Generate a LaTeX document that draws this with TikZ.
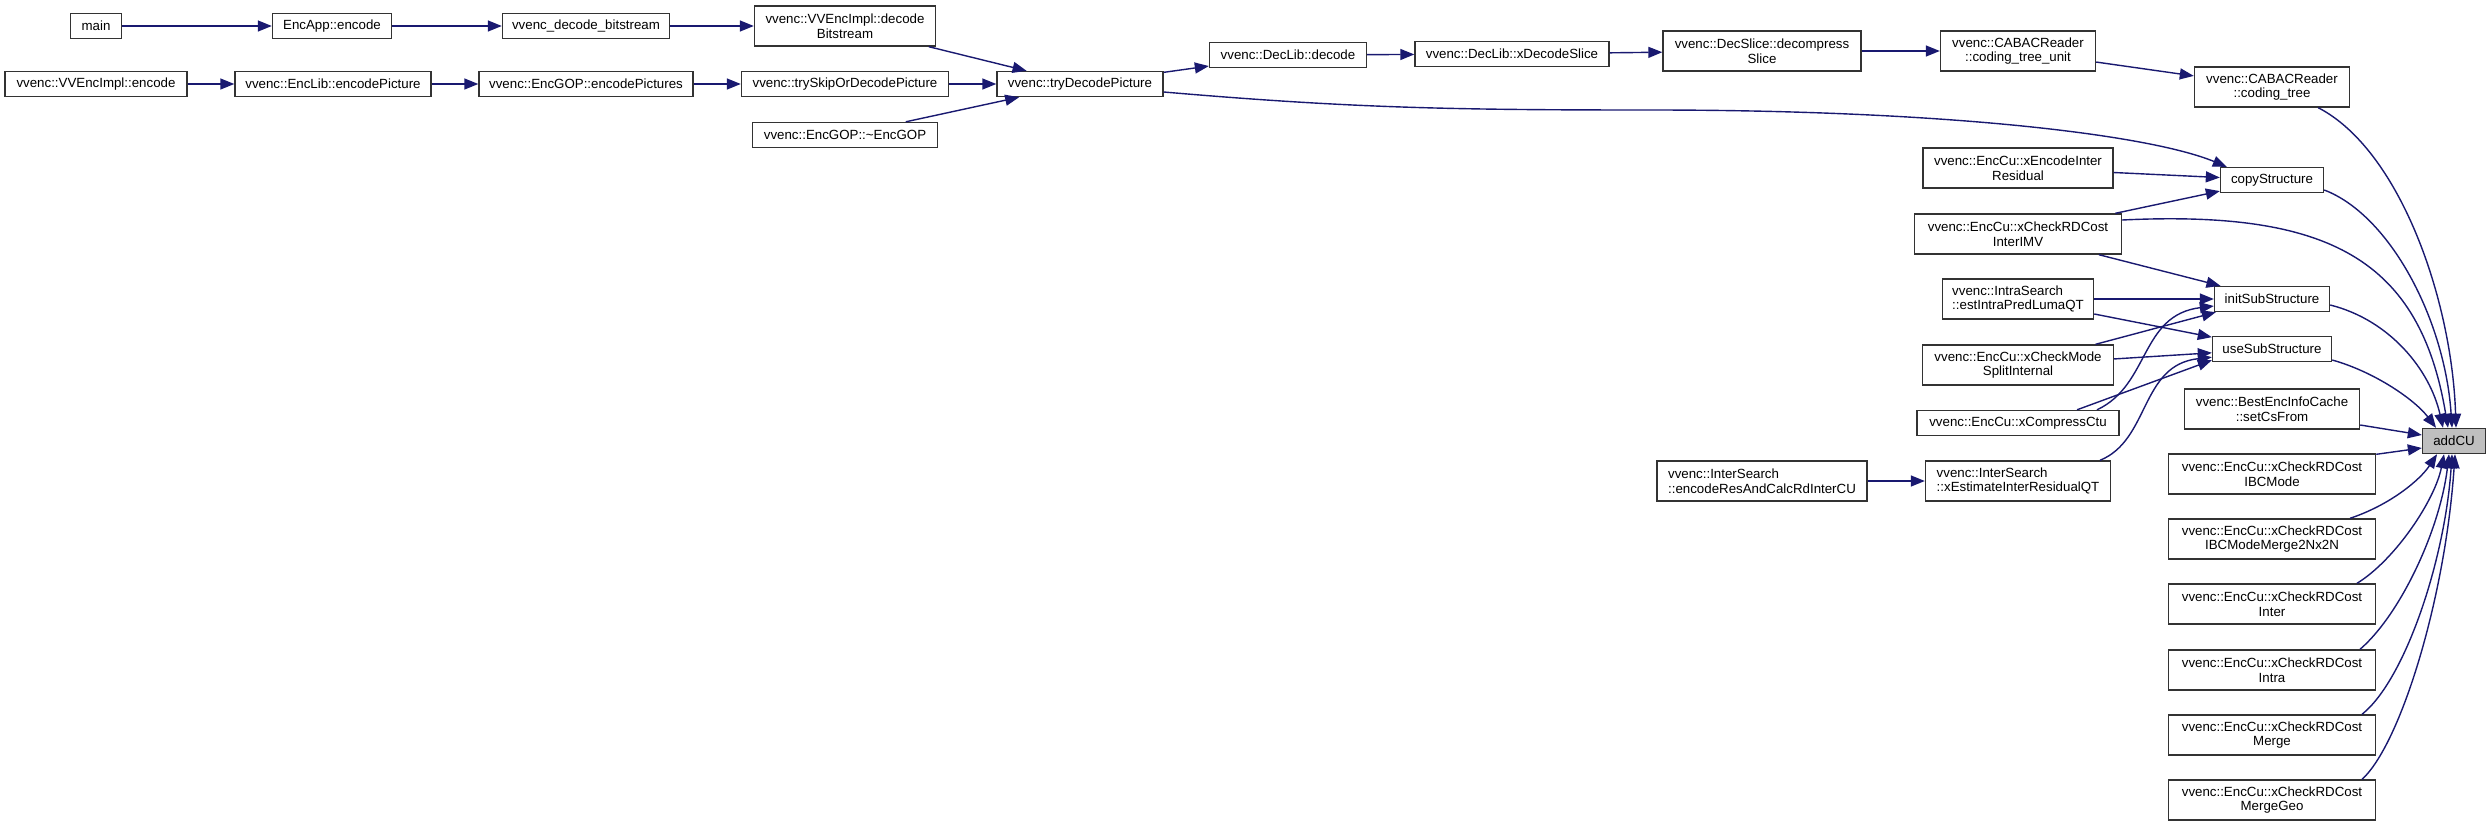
\documentclass[tikz,border=0pt]{standalone}
\usepackage{fontspec}
\setmainfont{Liberation Sans}
\usetikzlibrary{arrows.meta,calc}
\definecolor{edgecol}{HTML}{191970}
\definecolor{boxcol}{HTML}{333333}
\definecolor{selcol}{HTML}{BFBFBF}
\begin{document}
\begin{tikzpicture}[x=1pt,y=-1pt,
  fn/.style={draw=boxcol, line width=1.4pt, fill=white, inner sep=0pt,
    minimum height=25pt, font=\fontsize{13.3}{14.5}\selectfont, align=center},
  two/.style={minimum height=40pt},
  lft/.style={align=left},
  sel/.style={fill=selcol},
  edge/.style={draw=edgecol, line width=1.4pt, -{Triangle[length=14pt,width=11pt]}, fill=none}
]
\useasboundingbox (0,0) rectangle (2492,827);

% row 1
\node[fn, minimum width=51pt] (main) at (96,26) {main};
\node[fn, minimum width=119pt] (encapp) at (332,26) {EncApp::encode};
\node[fn, minimum width=167pt] (decbits) at (586,26) {vvenc\_decode\_bitstream};
\node[fn, two, minimum width=181pt] (vvdecbs) at (845,26) {vvenc::VVEncImpl::decode\\Bitstream};
% row 2
\node[fn, minimum width=182pt] (vvenc) at (96,84) {vvenc::VVEncImpl::encode};
\node[fn, minimum width=196pt] (enclib) at (333,84) {vvenc::EncLib::encodePicture};
\node[fn, minimum width=214pt] (encgop) at (586,84) {vvenc::EncGOP::encodePictures};
\node[fn, minimum width=207pt] (tryskip) at (845,84) {vvenc::trySkipOrDecodePicture};
\node[fn, minimum width=166pt] (trydec) at (1080,84) {vvenc::tryDecodePicture};
\node[fn, minimum width=185pt] (dtor) at (845,135) {vvenc::EncGOP::\textasciitilde EncGOP};
% decoder chain
\node[fn, minimum width=157pt] (declib) at (1288,55) {vvenc::DecLib::decode};
\node[fn, minimum width=194pt] (xdecslice) at (1512,54) {vvenc::DecLib::xDecodeSlice};
\node[fn, two, minimum width=198pt] (decomp) at (1762,51) {vvenc::DecSlice::decompress\\Slice};
\node[fn, two, minimum width=155pt] (ctu) at (2018,51) {vvenc::CABACReader\\::coding\_tree\_unit};
\node[fn, two, minimum width=155pt] (ctree) at (2272,87) {vvenc::CABACReader\\::coding\_tree};
% right cluster, left column
\node[fn, two, minimum width=190pt] (xenc) at (2018,168) {vvenc::EncCu::xEncodeInter\\Residual};
\node[fn, two, minimum width=207pt] (imv) at (2018,234) {vvenc::EncCu::xCheckRDCost\\InterIMV};
\node[fn, two, lft, minimum width=151pt] (estintra) at (2018,299) {vvenc::IntraSearch\\::estIntraPredLumaQT};
\node[fn, two, minimum width=191pt] (split) at (2018,365) {vvenc::EncCu::xCheckMode\\SplitInternal};
\node[fn, minimum width=202pt] (xcomp) at (2018,423) {vvenc::EncCu::xCompressCtu};
\node[fn, two, lft, minimum width=185pt] (xest) at (2018,481) {vvenc::InterSearch\\::xEstimateInterResidualQT};
\node[fn, two, lft, minimum width=210pt] (encres) at (1762,481) {vvenc::InterSearch\\::encodeResAndCalcRdInterCU};
% middle column
\node[fn, minimum width=103pt] (copy) at (2272,180) {copyStructure};
\node[fn, minimum width=115pt] (init) at (2272,299) {initSubStructure};
\node[fn, minimum width=119pt] (use) at (2272,349) {useSubStructure};
\node[fn, two, minimum width=175pt] (setcs) at (2272,409) {vvenc::BestEncInfoCache\\::setCsFrom};
\node[fn, two, minimum width=207pt] (ibc) at (2272,474) {vvenc::EncCu::xCheckRDCost\\IBCMode};
\node[fn, two, minimum width=207pt] (ibcm) at (2272,539) {vvenc::EncCu::xCheckRDCost\\IBCModeMerge2Nx2N};
\node[fn, two, minimum width=207pt] (inter) at (2272,604) {vvenc::EncCu::xCheckRDCost\\Inter};
\node[fn, two, minimum width=207pt] (intra) at (2272,670) {vvenc::EncCu::xCheckRDCost\\Intra};
\node[fn, two, minimum width=207pt] (merge) at (2272,735) {vvenc::EncCu::xCheckRDCost\\Merge};
\node[fn, two, minimum width=207pt] (mgeo) at (2272,800) {vvenc::EncCu::xCheckRDCost\\MergeGeo};
% target
\node[fn, sel, minimum width=63pt] (addcu) at (2454,441) {addCU};

% edges: top chains
\draw[edge] (main) -- (encapp);
\draw[edge] (encapp) -- (decbits);
\draw[edge] (decbits) -- (vvdecbs);
\draw[edge] (vvdecbs) -- (trydec);
\draw[edge] (vvenc) -- (enclib);
\draw[edge] (enclib) -- (encgop);
\draw[edge] (encgop) -- (tryskip);
\draw[edge] (tryskip) -- (trydec);
\draw[edge] (dtor) -- (trydec);
\draw[edge] (trydec) -- (declib);
\draw[edge] (declib) -- (xdecslice);
\draw[edge] (xdecslice) -- (decomp);
\draw[edge] (decomp) -- (ctu);
\draw[edge] (ctu) -- (ctree);
\draw[edge] ($(trydec.east)+(0,8)$) .. controls (1350,108) and (1450,110) .. (1650,110)
   .. controls (1950,110) and (2150,135) .. ($(copy.north west)+(7,0)$);

% right cluster
\draw[edge] (xenc) -- (copy);
\draw[edge] (imv) -- (copy);
\draw[edge] (imv) -- (init);
\draw[edge] (estintra) -- (init);
\draw[edge] (estintra) -- (use);
\draw[edge] (split) -- ($(init.south west)+(2,0)$);
\draw[edge] (split) -- (use);
\draw[edge] ($(xcomp.north)+(59,0)$) -- ($(use.south west)+(0,-2)$);
\draw[edge] ($(xcomp.north)+(79,0)$) .. controls (2150,385) and (2140,315) .. ($(init.west)+(0,7)$);
\draw[edge] ($(xest.north)+(82,0)$) .. controls (2150,440) and (2140,365) .. ($(use.south west)+(0,-5)$);
\draw[edge] (encres) -- (xest);

% into addCU
\draw[edge] ($(ctree.south east)+(-32,0)$) .. controls (2400,150) and (2452,300) .. ($(addcu.north)+(2,0)$);
\draw[edge] ($(copy.east)+(0,10)$) .. controls (2390,215) and (2445,320) .. ($(addcu.north)+(-2,0)$);
\draw[edge] ($(imv.east)+(0,-14)$) .. controls (2330,210) and (2420,260) .. ($(addcu.north)+(-6,0)$);
\draw[edge] ($(init.east)+(0,6)$) .. controls (2390,320) and (2430,370) .. ($(addcu.north)+(-11,0)$);
\draw[edge] ($(use.east)+(0,11)$) .. controls (2375,372) and (2415,400) .. ($(addcu.north)+(-18,0)$);
\draw[edge] ($(setcs.east)+(0,16)$) -- ($(addcu.west)+(0,-6)$);
\draw[edge] ($(ibc.north east)+(0,1)$) -- ($(addcu.west)+(0,7)$);
\draw[edge] ($(ibcm.north)+(78,0)$) .. controls (2390,505) and (2420,480) .. ($(addcu.south)+(-17,0)$);
\draw[edge] ($(inter.north)+(85,0)$) .. controls (2395,560) and (2435,500) .. ($(addcu.south)+(-10,0)$);
\draw[edge] ($(intra.north)+(88,0)$) .. controls (2400,615) and (2440,530) .. ($(addcu.south)+(-5,0)$);
\draw[edge] ($(merge.north)+(90,0)$) .. controls (2405,680) and (2445,560) .. ($(addcu.south)+(-2,0)$);
\draw[edge] ($(mgeo.north)+(90,0)$) .. controls (2400,745) and (2445,600) .. ($(addcu.south)+(1,0)$);
\end{tikzpicture}
\end{document}
